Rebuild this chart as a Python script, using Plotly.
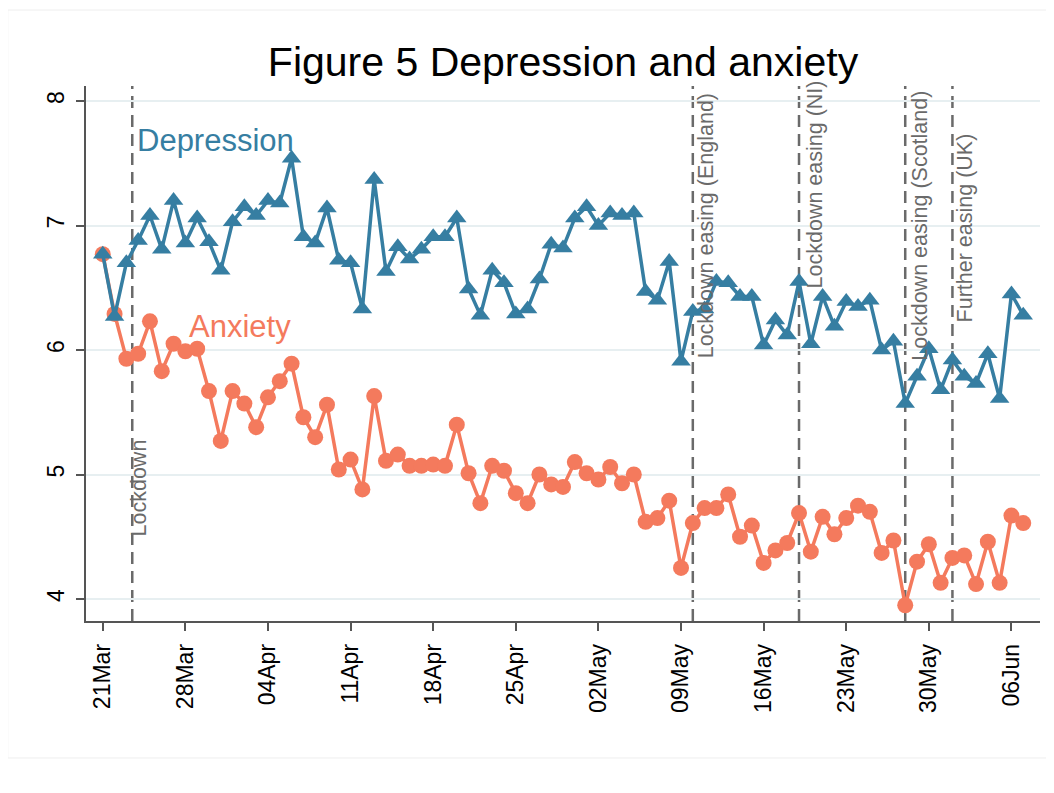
import plotly.graph_objects as go
import pandas as pd

# ---------------- data ----------------
dates = pd.date_range("2020-03-21", periods=79, freq="D")

depression = [6.77, 6.27, 6.70, 6.88, 7.08, 6.81, 7.20, 6.86, 7.06, 6.87,
              6.64, 7.03, 7.15, 7.08, 7.20, 7.18, 7.54, 6.91, 6.86, 7.14,
              6.72, 6.70, 6.33, 7.37, 6.63, 6.83, 6.73, 6.81, 6.91, 6.91,
              7.06, 6.49, 6.28, 6.64, 6.54, 6.29, 6.33, 6.57, 6.85, 6.82,
              7.06, 7.15, 7.00, 7.10, 7.08, 7.10, 6.47, 6.40, 6.71, 5.91,
              6.31, 6.33, 6.55, 6.54, 6.43, 6.43, 6.04, 6.24, 6.12, 6.55,
              6.05, 6.43, 6.19, 6.39, 6.35, 6.40, 6.00, 6.07, 5.57, 5.79,
              6.01, 5.68, 5.92, 5.79, 5.73, 5.97, 5.61, 6.45, 6.28]

anxiety = [6.77, 6.29, 5.93, 5.97, 6.23, 5.83, 6.05, 5.99, 6.01, 5.67,
           5.27, 5.67, 5.57, 5.38, 5.62, 5.75, 5.89, 5.46, 5.30, 5.56,
           5.04, 5.12, 4.88, 5.63, 5.11, 5.16, 5.07, 5.07, 5.08, 5.07,
           5.40, 5.01, 4.77, 5.07, 5.03, 4.85, 4.77, 5.00, 4.92, 4.90,
           5.10, 5.01, 4.96, 5.06, 4.93, 5.00, 4.62, 4.65, 4.79, 4.25,
           4.61, 4.73, 4.73, 4.84, 4.50, 4.59, 4.29, 4.39, 4.45, 4.69,
           4.38, 4.66, 4.52, 4.65, 4.75, 4.70, 4.37, 4.47, 3.95, 4.30,
           4.44, 4.13, 4.33, 4.35, 4.12, 4.46, 4.13, 4.67, 4.61]

tick_dates = ["2020-03-21", "2020-03-28", "2020-04-04", "2020-04-11",
              "2020-04-18", "2020-04-25", "2020-05-02", "2020-05-09",
              "2020-05-16", "2020-05-23", "2020-05-30", "2020-06-06"]
tick_labels = ["21Mar", "28Mar", "04Apr", "11Apr", "18Apr", "25Apr",
               "02May", "09May", "16May", "23May", "30May", "06Jun"]

y_ticks = [4, 5, 6, 7, 8]

event_dates = ["2020-03-23 12:00", "2020-05-10", "2020-05-19",
               "2020-05-28", "2020-06-01"]
event_labels = ["Lockdown", "Lockdown easing (England)", "Lockdown easing (NI)",
                "Lockdown easing (Scotland)", "Further easing (UK)"]

# ---------------- style / placement ----------------
BLUE = "#367ea2"
ORANGE = "#f47a5d"
GRAY = "#6a6a6a"
FONT = "Liberation Sans, Arial, sans-serif"
event_label_y = [4.89, 7.0, 7.33, 7.0, 6.98]
event_xshift = [7, 13, 16, 14, 13]

fig = go.Figure()

fig.add_trace(go.Scatter(
    x=dates, y=anxiety, mode="lines+markers", name="Anxiety",
    line=dict(color=ORANGE, width=3.5),
    marker=dict(symbol="circle", size=16, color=ORANGE),
    showlegend=False))

fig.add_trace(go.Scatter(
    x=dates, y=depression, mode="lines+markers", name="Depression",
    line=dict(color=BLUE, width=3.5),
    marker=dict(symbol="triangle-up", size=17, color=BLUE),
    showlegend=False))

for d, lab, ly, xs in zip(event_dates, event_labels, event_label_y, event_xshift):
    fig.add_shape(type="line", xref="x", yref="paper", x0=d, x1=d, y0=0, y1=1,
                  line=dict(color="#6a6a6a", width=2.5, dash="12px,7px"),
                  layer="below")
    fig.add_annotation(x=d, y=ly, xref="x", yref="y", text=lab, textangle=-90,
                       showarrow=False, xanchor="center", yanchor="middle",
                       xshift=xs, font=dict(family=FONT, size=21.5, color=GRAY))

fig.add_annotation(x="2020-03-23 17:30", y=7.68, xref="x", yref="y",
                   text="Depression", showarrow=False, xanchor="left",
                   yanchor="middle", font=dict(family=FONT, size=31, color=BLUE))
fig.add_annotation(x="2020-03-28 03:30", y=6.185, xref="x", yref="y",
                   text="Anxiety", showarrow=False, xanchor="left",
                   yanchor="middle", font=dict(family=FONT, size=31, color=ORANGE))

# faint outer frame
fig.add_shape(type="rect", xref="paper", yref="paper",
              x0=-0.082, x1=1.03, y0=-0.256, y1=1.142,
              line=dict(color="#eeeeee", width=1), fillcolor="rgba(0,0,0,0)",
              layer="below")

# page body adds an 8px offset; size/margins compensate for it
fig.update_layout(
    width=1046, height=785,
    margin=dict(l=78, r=14, t=78, b=172),
    paper_bgcolor="white", plot_bgcolor="white",
    font=dict(family=FONT, color="black"),
    title=dict(text="Figure 5 Depression and anxiety", x=0.5, xref="paper",
               xanchor="center", y=1 - 54 / 785, yref="container",
               yanchor="middle", font=dict(family=FONT, size=41, color="black")),
)

fig.update_xaxes(
    type="date", range=["2020-03-19 13:55", "2020-06-08 10:05"],
    tickvals=tick_dates, ticktext=tick_labels, tickangle=-90,
    tickfont=dict(family=FONT, size=23, color="black"),
    ticks="outside", ticklen=8, tickwidth=1.5, tickcolor="#555555",
    showline=True, linecolor="#555555", linewidth=1.5,
    showgrid=False, zeroline=False, ticklabelstandoff=4)

fig.update_yaxes(
    range=[3.8233, 8.1205], tickvals=y_ticks, tickangle=-90,
    tickfont=dict(family=FONT, size=23, color="black"),
    ticks="outside", ticklen=8, tickwidth=1.5, tickcolor="#555555",
    showline=True, linecolor="#555555", linewidth=1.5,
    showgrid=True, gridcolor="#e7eff1", gridwidth=1.5, zeroline=False,
    ticklabelstandoff=3)

fig.write_html("out.html")
